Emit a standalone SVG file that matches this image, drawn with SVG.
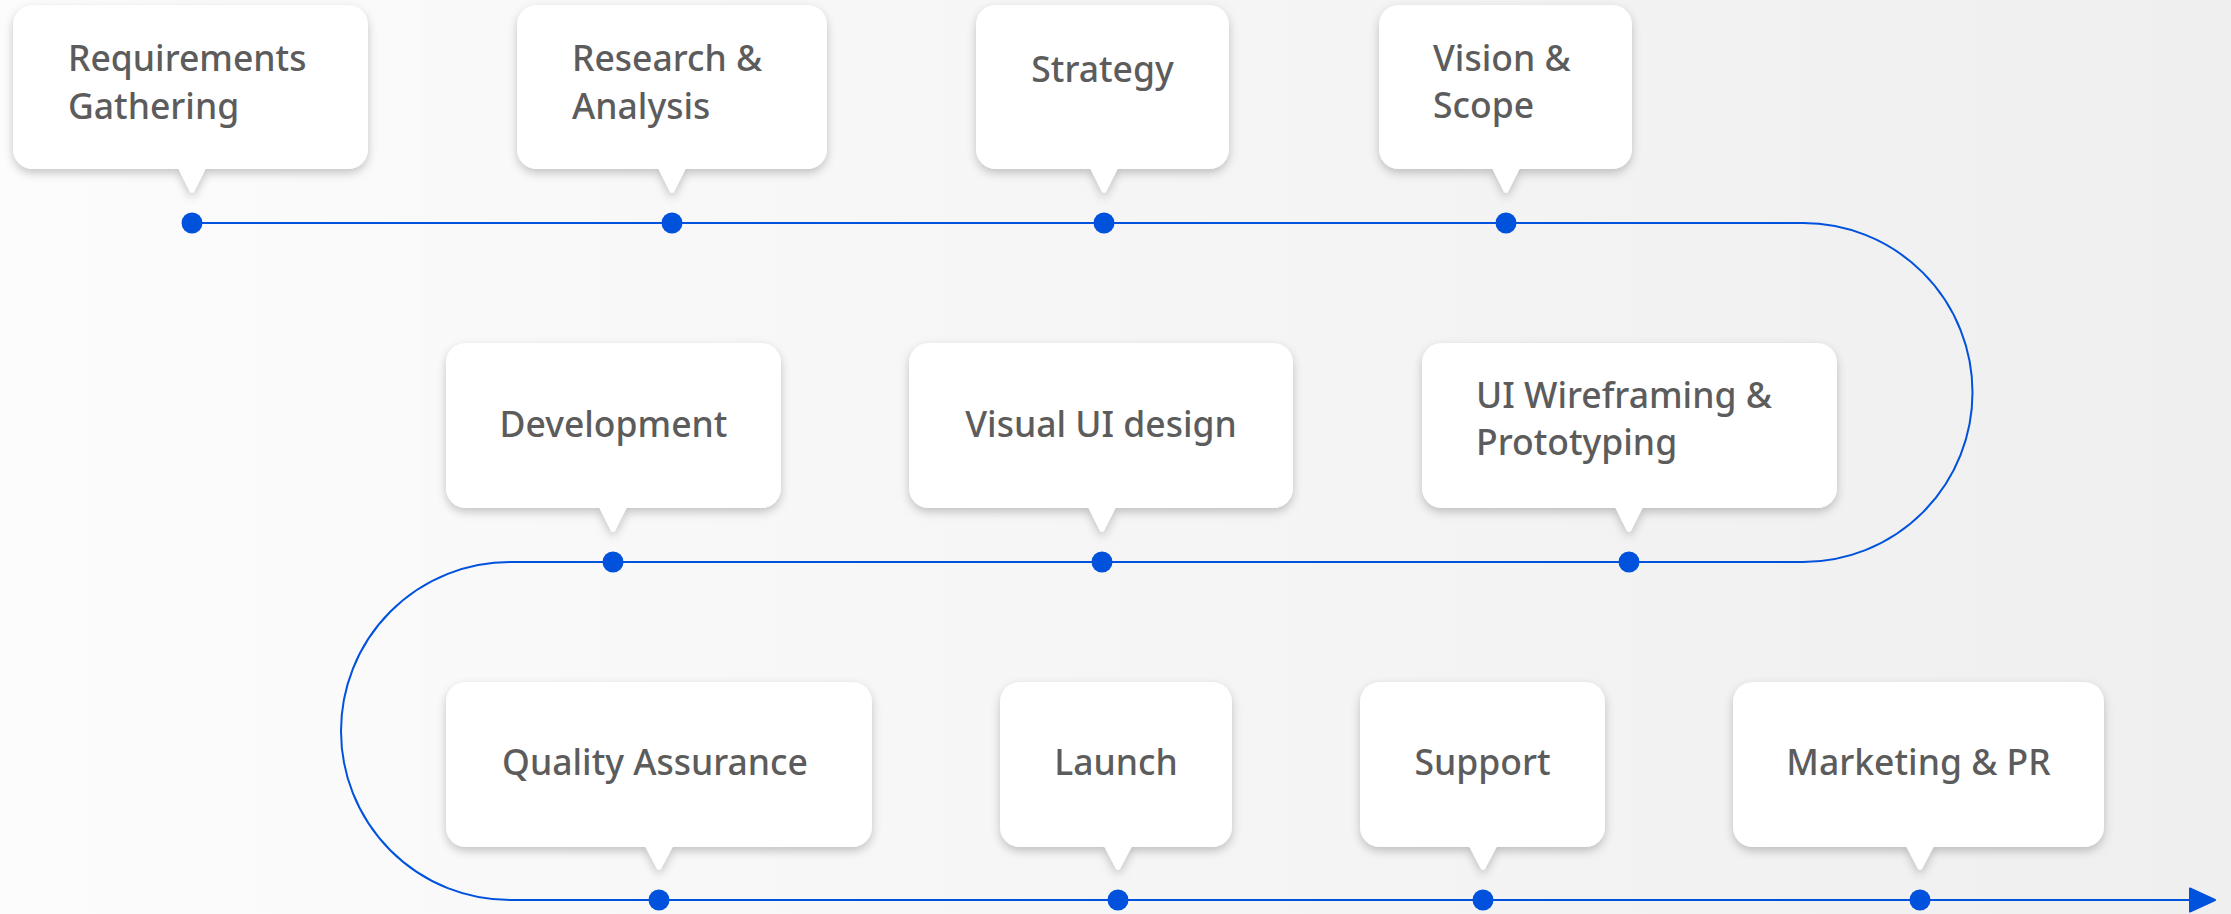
<svg xmlns="http://www.w3.org/2000/svg" width="2231" height="914" viewBox="0 0 2231 914">
  <defs>
    <linearGradient id="bg" x1="0" y1="0" x2="1" y2="0">
      <stop offset="0" stop-color="#fcfcfc"/>
      <stop offset="1" stop-color="#efefef"/>
    </linearGradient>
    <filter id="shadow" x="-10%" y="-10%" width="120%" height="140%">
      <feDropShadow dx="0" dy="4" stdDeviation="5" flood-color="#000000" flood-opacity="0.22"/>
    </filter>
    <marker id="arrow" markerUnits="userSpaceOnUse" markerWidth="30" markerHeight="30" refX="2" refY="13" orient="auto">
      <path d="M2,1.5 L27,13 L2,24.5 Z" fill="#0052dd" stroke="#0052dd" stroke-width="2" stroke-linejoin="round"/>
    </marker>
    <style>
      .box { fill: #ffffff; filter: url(#shadow); }
      .lbl { font-family: "Noto Sans", "Open Sans", "Liberation Sans", sans-serif; font-size: 35.5px; font-weight: 500; fill: #5c5c5c; }
      .mid { text-anchor: middle; }
      .path { fill: none; stroke: #0052dd; stroke-width: 2; }
      .dot { fill: #0052dd; }
    </style>
  </defs>

  <rect x="0" y="0" width="2231" height="914" fill="url(#bg)"/>

  <g id="connectors">
    <path class="path" d="M192,223 H1803 A169.5,169.5 0 0 1 1803,562 H510 A169,169 0 0 0 510,900 H2190" marker-end="url(#arrow)"/>
    <circle class="dot" cx="192" cy="223" r="10.5"/>
    <circle class="dot" cx="672" cy="223" r="10.5"/>
    <circle class="dot" cx="1104" cy="223" r="10.5"/>
    <circle class="dot" cx="1506" cy="223" r="10.5"/>
    <circle class="dot" cx="1629" cy="562" r="10.5"/>
    <circle class="dot" cx="1102" cy="562" r="10.5"/>
    <circle class="dot" cx="613" cy="562" r="10.5"/>
    <circle class="dot" cx="659" cy="900" r="10.5"/>
    <circle class="dot" cx="1118" cy="900" r="10.5"/>
    <circle class="dot" cx="1483" cy="900" r="10.5"/>
    <circle class="dot" cx="1920" cy="900" r="10.5"/>
  </g>

  <g id="node-requirements">
    <path class="box" d="M33,5 H348 A20,20 0 0 1 368,25 V149 A20,20 0 0 1 348,169 H205.5 L194.5,191 Q192,195 189.5,191 L178.5,169 H33 A20,20 0 0 1 13,149 V25 A20,20 0 0 1 33,5 Z"/>
    <text class="lbl" x="68" y="71">Requirements</text>
    <text class="lbl" x="68" y="119">Gathering</text>
  </g>

  <g id="node-research">
    <path class="box" d="M537,5 H807 A20,20 0 0 1 827,25 V149 A20,20 0 0 1 807,169 H685.5 L674.5,191 Q672,195 669.5,191 L658.5,169 H537 A20,20 0 0 1 517,149 V25 A20,20 0 0 1 537,5 Z"/>
    <text class="lbl" x="572" y="71">Research &amp;</text>
    <text class="lbl" x="572" y="119">Analysis</text>
  </g>

  <g id="node-strategy">
    <path class="box" d="M996,5 H1209 A20,20 0 0 1 1229,25 V149 A20,20 0 0 1 1209,169 H1117.5 L1106.5,191 Q1104,195 1101.5,191 L1090.5,169 H996 A20,20 0 0 1 976,149 V25 A20,20 0 0 1 996,5 Z"/>
    <text class="lbl mid" x="1102.5" y="82">Strategy</text>
  </g>

  <g id="node-vision">
    <path class="box" d="M1399,5 H1612 A20,20 0 0 1 1632,25 V149 A20,20 0 0 1 1612,169 H1519.5 L1508.5,191 Q1506,195 1503.5,191 L1492.5,169 H1399 A20,20 0 0 1 1379,149 V25 A20,20 0 0 1 1399,5 Z"/>
    <text class="lbl" x="1433" y="71">Vision &amp;</text>
    <text class="lbl" x="1433" y="118">Scope</text>
  </g>

  <g id="node-wireframing">
    <path class="box" d="M1442,343 H1817 A20,20 0 0 1 1837,363 V488 A20,20 0 0 1 1817,508 H1642.5 L1631.5,530 Q1629,534 1626.5,530 L1615.5,508 H1442 A20,20 0 0 1 1422,488 V363 A20,20 0 0 1 1442,343 Z"/>
    <text class="lbl" x="1476" y="408">UI Wireframing &amp;</text>
    <text class="lbl" x="1476" y="455">Prototyping</text>
  </g>

  <g id="node-visual">
    <path class="box" d="M929,343 H1273 A20,20 0 0 1 1293,363 V488 A20,20 0 0 1 1273,508 H1115.5 L1104.5,530 Q1102,534 1099.5,530 L1088.5,508 H929 A20,20 0 0 1 909,488 V363 A20,20 0 0 1 929,343 Z"/>
    <text class="lbl mid" x="1101" y="437">Visual UI design</text>
  </g>

  <g id="node-development">
    <path class="box" d="M466,343 H761 A20,20 0 0 1 781,363 V488 A20,20 0 0 1 761,508 H626.5 L615.5,530 Q613,534 610.5,530 L599.5,508 H466 A20,20 0 0 1 446,488 V363 A20,20 0 0 1 466,343 Z"/>
    <text class="lbl mid" x="613.5" y="437">Development</text>
  </g>

  <g id="node-qa">
    <path class="box" d="M466,682 H852 A20,20 0 0 1 872,702 V827 A20,20 0 0 1 852,847 H672.5 L661.5,868 Q659,872 656.5,868 L645.5,847 H466 A20,20 0 0 1 446,827 V702 A20,20 0 0 1 466,682 Z"/>
    <text class="lbl mid" x="655" y="775">Quality Assurance</text>
  </g>

  <g id="node-launch">
    <path class="box" d="M1020,682 H1212 A20,20 0 0 1 1232,702 V827 A20,20 0 0 1 1212,847 H1131.5 L1120.5,868 Q1118,872 1115.5,868 L1104.5,847 H1020 A20,20 0 0 1 1000,827 V702 A20,20 0 0 1 1020,682 Z"/>
    <text class="lbl mid" x="1116" y="775">Launch</text>
  </g>

  <g id="node-support">
    <path class="box" d="M1380,682 H1585 A20,20 0 0 1 1605,702 V827 A20,20 0 0 1 1585,847 H1496.5 L1485.5,868 Q1483,872 1480.5,868 L1469.5,847 H1380 A20,20 0 0 1 1360,827 V702 A20,20 0 0 1 1380,682 Z"/>
    <text class="lbl mid" x="1482.5" y="775">Support</text>
  </g>

  <g id="node-marketing">
    <path class="box" d="M1753,682 H2084 A20,20 0 0 1 2104,702 V827 A20,20 0 0 1 2084,847 H1933.5 L1922.5,868 Q1920,872 1917.5,868 L1906.5,847 H1753 A20,20 0 0 1 1733,827 V702 A20,20 0 0 1 1753,682 Z"/>
    <text class="lbl mid" x="1918.5" y="775">Marketing &amp; PR</text>
  </g>
</svg>
